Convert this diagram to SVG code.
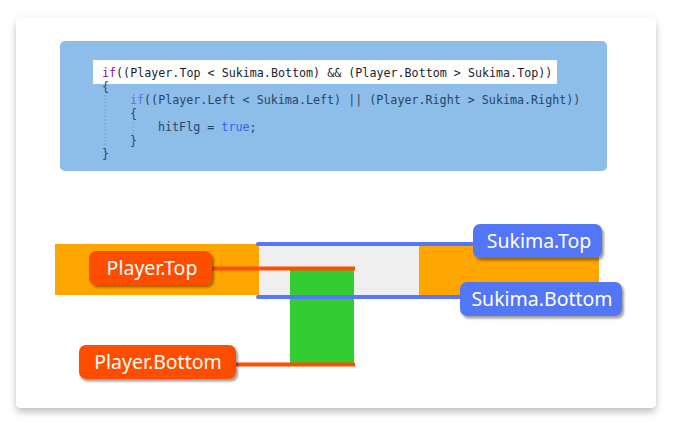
<svg xmlns="http://www.w3.org/2000/svg" width="677" height="430" viewBox="0 0 677 430">
<defs>
<filter id="card" x="-10%" y="-10%" width="120%" height="130%">
<feDropShadow dx="0" dy="4" stdDeviation="3.5" flood-color="#000" flood-opacity="0.25"/>
</filter>
<filter id="lbl" x="-10%" y="-20%" width="125%" height="150%">
<feDropShadow dx="2" dy="2.5" stdDeviation="0.8" flood-color="#000" flood-opacity="0.38"/>
</filter>
<style>
.code{font-family:"DejaVu Sans Mono","Liberation Mono",monospace;font-size:11.7px;fill:#2b4466;white-space:pre}
.kw1{fill:#8a10a8}
.kw2{fill:#6a6ce8}
.tr{fill:#3a62f0}
.l1{fill:#1c1c2c}
.guide{stroke:#6a88c0;stroke-width:1;stroke-dasharray:1 2.5}
.lblO{fill:#ff4e00}
.lblB{fill:#5276f6}
.lt{font-family:"Noto Sans","Liberation Sans",sans-serif;font-size:19.5px;fill:#fff;text-anchor:middle}
.blue{stroke:#5577ff;stroke-width:4;stroke-linecap:round;fill:none}
.red{stroke:#ff4e00;stroke-width:4;fill:none}
</style>
</defs>
<rect x="0" y="0" width="677" height="430" fill="#fff"/>
<rect x="16" y="17" width="640" height="391" rx="5" fill="#fff" filter="url(#card)"/>

<g id="code">
<rect x="60" y="41" width="547" height="130" rx="5" fill="#8dbde9"/>
<rect x="93" y="60" width="464" height="24" fill="#fff"/>
<line class="guide" x1="105" y1="95" x2="105" y2="152"/>
<line class="guide" x1="133" y1="123" x2="133" y2="134"/>
<text class="code" x="102" y="77"><tspan class="kw1">if</tspan><tspan class="l1">((Player.Top &lt; Sukima.Bottom) &amp;&amp; (Player.Bottom &gt; Sukima.Top))</tspan></text>
<text class="code" x="102" y="90.5">{</text>
<text class="code" x="130" y="104"><tspan class="kw2">if</tspan>((Player.Left &lt; Sukima.Left) || (Player.Right &gt; Sukima.Right))</text>
<text class="code" x="130" y="117.5">{</text>
<text class="code" x="158" y="131">hitFlg = <tspan class="tr">true</tspan>;</text>
<text class="code" x="130" y="144.5">}</text>
<text class="code" x="102" y="158">}</text>
</g>

<g id="bar">
<rect x="55" y="244" width="544" height="51" fill="#ffa500"/>
<rect x="259" y="245" width="160" height="50" fill="#efefef"/>
</g>

<g id="player">
<rect x="290" y="269" width="64" height="94" fill="#33cc33"/>
</g>

<g id="connectors">
<line class="blue" x1="258" y1="244" x2="480" y2="244"/>
<line class="blue" x1="258" y1="297" x2="465" y2="297"/>
<line class="red" x1="210" y1="268.5" x2="355" y2="268.5"/>
<line class="red" x1="234" y1="364.5" x2="355" y2="364.5"/>
</g>

<g id="lbl-player-top">
<rect class="lblO" x="89" y="251" width="123" height="34" rx="7" filter="url(#lbl)"/>
<text class="lt" x="152" y="275">Player.Top</text>
</g>
<g id="lbl-player-bottom">
<rect class="lblO" x="79" y="345" width="157" height="34" rx="7" filter="url(#lbl)"/>
<text class="lt" x="158" y="369">Player.Bottom</text>
</g>
<g id="lbl-sukima-top">
<rect class="lblB" x="473" y="224" width="129" height="34" rx="7" filter="url(#lbl)"/>
<text class="lt" x="539" y="248">Sukima.Top</text>
</g>
<g id="lbl-sukima-bottom">
<rect class="lblB" x="460" y="282" width="162" height="34" rx="7" filter="url(#lbl)"/>
<text class="lt" x="542" y="306">Sukima.Bottom</text>
</g>
</svg>
